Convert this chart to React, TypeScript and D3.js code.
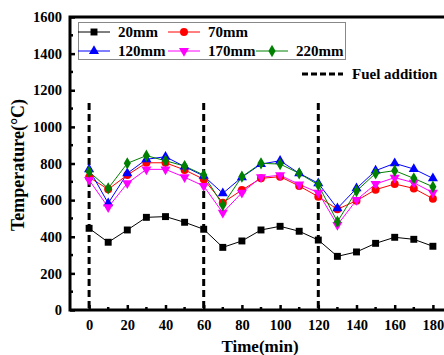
import React, { useRef, useEffect } from "react";
import * as d3 from "d3";

// Time axis (min)
const TIMES = [0, 10, 20, 30, 40, 50, 60, 70, 80, 90, 100, 110, 120, 130, 140, 150, 160, 170, 180];

const T20 = [446, 370, 437, 506, 510, 479, 441, 342, 377, 437, 457, 430, 382, 293, 317, 364, 397, 386, 348];
const T70 = [725, 659, 737, 804, 804, 765, 714, 586, 655, 719, 728, 677, 619, 550, 597, 657, 688, 664, 608];
const T120 = [768, 583, 746, 823, 837, 783, 732, 637, 725, 797, 815, 746, 692, 555, 664, 761, 801, 770, 719];
const T170 = [710, 561, 692, 768, 768, 725, 677, 531, 641, 725, 736, 686, 641, 464, 601, 688, 723, 695, 641];
const T220 = [755, 664, 801, 843, 815, 786, 737, 573, 728, 801, 797, 746, 683, 482, 650, 746, 761, 719, 673];

const FUEL_TIMES = [0, 60, 120];
const X_TICKS = [0, 20, 40, 60, 80, 100, 120, 140, 160, 180];
const Y_TICKS = [0, 200, 400, 600, 800, 1000, 1200, 1400, 1600];

const SERIES = [
    { name: "20mm", values: T20, color: "#000000", symbol: d3.symbolSquare, size: 48, rot: 0 },
    { name: "70mm", values: T70, color: "#ff0000", symbol: d3.symbolCircle, size: 50, rot: 0 },
    { name: "120mm", values: T120, color: "#0000ff", symbol: d3.symbolTriangle, size: 44, rot: 0 },
    { name: "170mm", values: T170, color: "#ff00ff", symbol: d3.symbolTriangle, size: 44, rot: 180 },
    { name: "220mm", values: T220, color: "#008000", symbol: d3.symbolDiamond, size: 44, rot: 0 },
];

const FONT = "'Liberation Serif', 'Times New Roman', serif";

export default function App() {
    const svgRef = useRef<SVGSVGElement>(null);

    useEffect(() => {
        if (!svgRef.current) return;
        const svg = d3.select(svgRef.current);
        svg.selectAll("*").remove();

        const x = d3.scaleLinear().domain([-10, 190]).range([70, 452]);
        const y = d3.scaleLinear().domain([0, 1600]).range([310, 17]);

        // Frame
        svg.append("rect")
            .attr("x", x(-10)).attr("y", y(1600))
            .attr("width", x(190) - x(-10)).attr("height", y(0) - y(1600))
            .attr("fill", "none").attr("stroke", "#000").attr("stroke-width", 3);

        // Minor ticks (inward)
        const minorX = d3.range(10, 190, 20);
        svg.append("g").selectAll("line").data(minorX).join("line")
            .attr("x1", d => x(d)).attr("x2", d => x(d))
            .attr("y1", y(0)).attr("y2", y(0) - 3)
            .attr("stroke", "#000").attr("stroke-width", 2.5);
        const minorY = d3.range(100, 1600, 200);
        svg.append("g").selectAll("line").data(minorY).join("line")
            .attr("x1", x(-10)).attr("x2", x(-10) + 3)
            .attr("y1", d => y(d)).attr("y2", d => y(d))
            .attr("stroke", "#000").attr("stroke-width", 2.5);

        // X axis
        const xAxis = svg.append("g").attr("transform", `translate(0,${y(0)})`)
            .call(d3.axisBottom(x).tickValues(X_TICKS).tickFormat(d3.format("d")).tickSize(-5).tickPadding(10));
        xAxis.select(".domain").remove();
        xAxis.selectAll("line").attr("stroke-width", 2.5);
        xAxis.selectAll("text").attr("font-family", FONT).attr("font-weight", "bold")
            .attr("font-size", 14.5).attr("fill", "#000");

        // Y axis
        const yAxis = svg.append("g").attr("transform", `translate(${x(-10)},0)`)
            .call(d3.axisLeft(y).tickValues(Y_TICKS).tickFormat(d3.format("d")).tickSize(-5).tickPadding(8));
        yAxis.select(".domain").remove();
        yAxis.selectAll("line").attr("stroke-width", 2.5);
        yAxis.selectAll("text").attr("font-family", FONT).attr("font-weight", "bold")
            .attr("font-size", 14.5).attr("fill", "#000");

        // Fuel addition lines
        svg.append("g").selectAll("line").data(FUEL_TIMES).join("line")
            .attr("x1", d => x(d)).attr("x2", d => x(d))
            .attr("y1", y(1130)).attr("y2", y(0))
            .attr("stroke", "#000").attr("stroke-width", 3)
            .attr("stroke-dasharray", "7 4");

        // Series lines + markers
        const line = d3.line<number>()
            .x((_, i) => x(TIMES[i]))
            .y(d => y(d));

        SERIES.forEach(s => {
            svg.append("path")
                .attr("d", line(s.values) || "")
                .attr("fill", "none")
                .attr("stroke", s.color)
                .attr("stroke-width", 1);
        });
        SERIES.forEach(s => {
            const sym = d3.symbol().type(s.symbol).size(s.size);
            svg.append("g").selectAll("path").data(s.values).join("path")
                .attr("d", sym() || "")
                .attr("transform", (d, i) => `translate(${x(TIMES[i])},${y(d)}) rotate(${s.rot})`)
                .attr("fill", s.color);
        });

        // Legend box
        const lg = svg.append("g");
        lg.append("rect")
            .attr("x", 78.5).attr("y", 22.5).attr("width", 267).attr("height", 37)
            .attr("fill", "#fff").attr("stroke", "#888").attr("stroke-width", 1);

        const legendPos = [
            { lx: 78, ty: 32 },
            { lx: 168, ty: 32 },
            { lx: 78, ty: 51 },
            { lx: 168, ty: 51 },
            { lx: 256, ty: 51 },
        ];
        SERIES.forEach((s, i) => {
            const p = legendPos[i];
            lg.append("line")
                .attr("x1", p.lx).attr("x2", p.lx + 32)
                .attr("y1", p.ty).attr("y2", p.ty)
                .attr("stroke", s.color).attr("stroke-width", 1);
            const sym = d3.symbol().type(s.symbol).size(s.size);
            lg.append("path")
                .attr("d", sym() || "")
                .attr("transform", `translate(${p.lx + 16},${p.ty}) rotate(${s.rot})`)
                .attr("fill", s.color);
            lg.append("text")
                .attr("x", p.lx + 40).attr("y", p.ty + 5)
                .attr("font-family", FONT).attr("font-weight", "bold").attr("font-size", 15)
                .attr("fill", "#000")
                .text(s.name);
        });

        // Fuel addition legend
        svg.append("line")
            .attr("x1", 302).attr("x2", 343).attr("y1", 74).attr("y2", 74)
            .attr("stroke", "#000").attr("stroke-width", 3).attr("stroke-dasharray", "6 3");
        svg.append("text")
            .attr("x", 352).attr("y", 79)
            .attr("font-family", FONT).attr("font-weight", "bold").attr("font-size", 15)
            .attr("fill", "#000")
            .text("Fuel addition");

        // Axis titles
        svg.append("text")
            .attr("transform", `translate(24,165) rotate(-90)`)
            .attr("text-anchor", "middle")
            .attr("font-family", FONT).attr("font-weight", "bold").attr("font-size", 18)
            .attr("fill", "#000")
            .text("Temperature(°C)");
        svg.append("text")
            .attr("x", 260).attr("y", 352)
            .attr("text-anchor", "middle")
            .attr("font-family", FONT).attr("font-weight", "bold").attr("font-size", 17)
            .attr("fill", "#000")
            .text("Time(min)");
    }, []);

    return (
        <svg
            ref={svgRef}
            width={444}
            height={355}
            style={{ position: "absolute", left: 0, top: 0, background: "#fff" }}
        />
    );
}
